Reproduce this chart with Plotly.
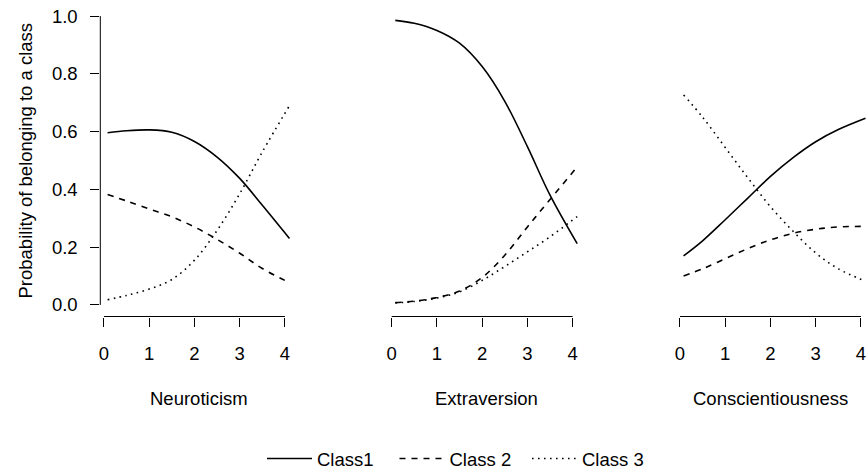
import plotly.graph_objects as go

# ---- data ----
x_vals = [0.08, 0.5, 1.0, 1.5, 2.0, 2.5, 3.0, 3.5, 4.1]

panel_titles = ["Neuroticism", "Extraversion", "Conscientiousness"]

neu_class1 = [0.596, 0.603, 0.606, 0.598, 0.566, 0.512, 0.438, 0.345, 0.230]
neu_class2 = [0.382, 0.360, 0.332, 0.305, 0.270, 0.227, 0.179, 0.126, 0.077]
neu_class3 = [0.018, 0.033, 0.055, 0.088, 0.155, 0.258, 0.385, 0.530, 0.690]

ext_class1 = [0.985, 0.975, 0.950, 0.906, 0.825, 0.705, 0.548, 0.380, 0.212]
ext_class2 = [0.008, 0.013, 0.026, 0.048, 0.095, 0.172, 0.270, 0.365, 0.478]
ext_class3 = [0.007, 0.012, 0.024, 0.045, 0.085, 0.133, 0.184, 0.236, 0.306]

con_class1 = [0.170, 0.222, 0.295, 0.370, 0.445, 0.510, 0.565, 0.607, 0.646]
con_class2 = [0.100, 0.125, 0.160, 0.195, 0.225, 0.248, 0.262, 0.270, 0.272]
con_class3 = [0.727, 0.650, 0.545, 0.440, 0.340, 0.255, 0.180, 0.125, 0.082]

series_names = ["Class1", "Class 2", "Class 3"]
x_ticks = [0, 1, 2, 3, 4]
x_tick_labels = ["0", "1", "2", "3", "4"]
y_ticks = [0.0, 0.2, 0.4, 0.6, 0.8, 1.0]
y_tick_labels = ["0.0", "0.2", "0.4", "0.6", "0.8", "1.0"]
y_title = "Probability of belonging to a class"

panels = [
    (neu_class1, neu_class2, neu_class3),
    (ext_class1, ext_class2, ext_class3),
    (con_class1, con_class2, con_class3),
]

# ---- style / layout ----
W, H = 868, 473
FONT = "Liberation Sans, Arial, sans-serif"
FS = 18.5
dashes = ["solid", "6px,6px", "1.6px,4.4px"]
px_per_unit = 45.25
panel_left = [100.3, 388.0, 676.3]
x_lo = -0.081
plot_top, plot_bot = 4.5, 316.5
ydom = [(H - plot_bot) / H, (H - plot_top) / H]

fig = go.Figure()
for i, series in enumerate(panels):
    sfx = "" if i == 0 else str(i + 1)
    for j, vals in enumerate(series):
        fig.add_trace(go.Scatter(
            x=x_vals, y=vals, mode="lines",
            name=series_names[j], showlegend=(i == 0),
            line=dict(color="black", width=1.6, dash=dashes[j], shape="spline", smoothing=1.0),
            xaxis="x" + sfx, yaxis="y" + sfx, hoverinfo="skip",
        ))

layout = dict(
    width=W, height=H,
    margin=dict(l=0, r=0, t=0, b=0, autoexpand=False),
    paper_bgcolor="white", plot_bgcolor="white",
    font=dict(family=FONT, size=FS, color="black"),
    showlegend=True,
    legend=dict(orientation="h", x=262 / W, xanchor="left", y=(H - 459) / H, yanchor="middle",
                font=dict(size=FS), itemwidth=45, entrywidthmode="pixels", entrywidth=72.5,
                bgcolor="rgba(0,0,0,0)", tracegroupgap=0),
)
shapes = []
annotations = []
for i in range(3):
    sfx = "" if i == 0 else str(i + 1)
    left = panel_left[i]
    right = left + (4.342) * px_per_unit
    d1 = min(right / W, 1.0)
    x_hi = x_lo + (d1 * W - left) / px_per_unit
    layout["xaxis" + sfx] = dict(
        domain=[left / W, d1], range=[x_lo, x_hi], anchor="y" + sfx,
        showgrid=False, zeroline=False, showline=False,
        tickmode="array", tickvals=x_ticks, ticktext=x_tick_labels,
        ticks="outside", ticklen=9, tickwidth=1, tickcolor="black",
        ticklabelstandoff=11, tickfont=dict(size=FS),
    )
    layout["yaxis" + sfx] = dict(
        domain=ydom, range=[-0.04, 1.04], anchor="x" + sfx,
        showgrid=False, zeroline=False, showline=False,
        tickmode="array", tickvals=y_ticks, ticktext=y_tick_labels,
        ticks="outside" if i == 0 else "", ticklen=9, tickwidth=1, tickcolor="black",
        showticklabels=(i == 0), ticklabelstandoff=9, tickfont=dict(size=FS),
    )
    shapes.append(dict(type="line", xref="x" + sfx, yref="y" + sfx + " domain",
                       x0=x_ticks[0], x1=x_ticks[-1], y0=0, y1=0,
                       line=dict(color="black", width=1)))
    annotations.append(dict(text=panel_titles[i], xref="x" + sfx + " domain", x=0.5 if i < 2 else (2 - x_lo) / (x_hi - x_lo),
                            yref="paper", y=(H - 398) / H, yanchor="middle", xanchor="center",
                            showarrow=False, font=dict(size=FS)))
shapes.append(dict(type="line", xref="x domain", yref="y", x0=0, x1=0, y0=y_ticks[0], y1=y_ticks[-1],
                   line=dict(color="black", width=1)))
annotations.append(dict(text=y_title, textangle=-90, xref="paper", x=25 / W, yref="paper",
                        y=(ydom[0] + ydom[1]) / 2, xanchor="center", yanchor="middle",
                        showarrow=False, font=dict(size=FS)))
layout["shapes"] = shapes
layout["annotations"] = annotations
fig.update_layout(**layout)
fig.write_html("out.html")
